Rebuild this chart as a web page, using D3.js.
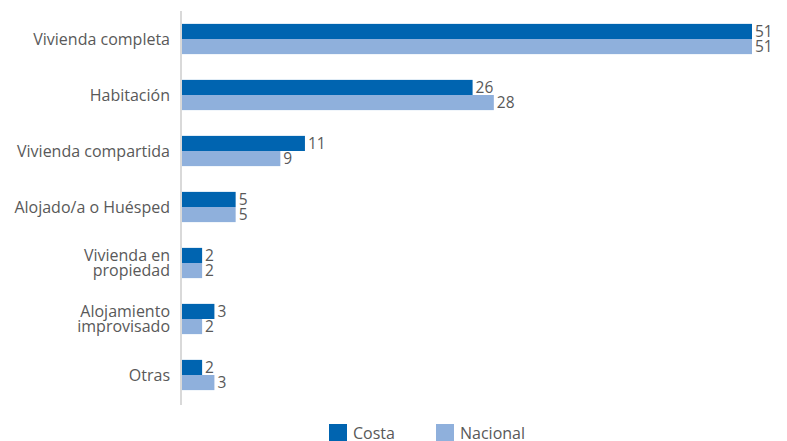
<!DOCTYPE html>
<html>
<head>
<meta charset="utf-8">
<script src="https://cdn.jsdelivr.net/npm/d3@7"></script>
<style>
  body{margin:0;background:#fff;}
  text{font-family:"Open Sans",sans-serif;}
</style>
</head>
<body>
<svg id="chart" width="787" height="441"></svg>
<script>
// categories (multi-line labels split by '|')
var categories=["Vivienda completa","Habitación","Vivienda compartida","Alojado/a o Huésped","Vivienda en|propiedad","Alojamiento|improvisado","Otras"];
var series=["Costa","Nacional"];
var costa=[51,26,11,4.8,1.8,2.9,1.8];
var nacional=[51,27.9,8.8,4.8,1.8,1.8,2.9];
var colors=["#0064b0","#8fb0dc"];

var svg=d3.select("#chart");

var x=d3.scaleLinear().domain([0,51]).range([182,752]);
var y=d3.scaleBand().domain(categories).range([11,403]).paddingInner(0.46).paddingOuter(0.23);
var ySub=d3.scaleBand().domain(series).range([0,y.bandwidth()]);

var rows=categories.map(function(c,i){return {cat:c,vals:[costa[i],nacional[i]]};});

var g=svg.selectAll("g.row").data(rows).enter().append("g")
  .attr("class","row")
  .attr("transform",function(d){return "translate(0,"+y(d.cat)+")";});

g.selectAll("rect").data(function(d){return d.vals.map(function(v,j){return {s:series[j],v:v,j:j};});})
  .enter().append("rect")
  .attr("x",x(0))
  .attr("y",function(d){return ySub(d.s);})
  .attr("width",function(d){return x(d.v)-x(0);})
  .attr("height",ySub.bandwidth())
  .attr("fill",function(d){return colors[d.j];});

g.selectAll("text.val").data(function(d){return d.vals.map(function(v,j){return {s:series[j],v:v};});})
  .enter().append("text")
  .attr("class","val")
  .attr("x",function(d){return x(d.v)+3;})
  .attr("y",function(d){return ySub(d.s)+ySub.bandwidth()/2;})
  .attr("dy","0.36em")
  .attr("font-size","15.5px")
  .attr("fill","#595959")
  .text(function(d){return Math.round(d.v);});

// category labels
svg.selectAll("text.cat").data(categories).enter().append("text")
  .attr("class","cat")
  .attr("text-anchor","end")
  .attr("font-size","16px")
  .attr("fill","#595959")
  .each(function(d){
    var lines=d.split("|");
    var cy=y(d)+y.bandwidth()/2;
    var t=d3.select(this);
    lines.forEach(function(l,k){
      t.append("tspan")
        .attr("x",170)
        .attr("y",cy+(k-(lines.length-1)/2)*15)
        .attr("dy","0.35em")
        .text(l);
    });
  });

// axis line
svg.append("line")
  .attr("x1",181).attr("x2",181)
  .attr("y1",11).attr("y2",405)
  .attr("stroke","#d9d9d9").attr("stroke-width",2);

// legend
var legX=[329,436];
var leg=svg.selectAll("g.leg").data(series).enter().append("g")
  .attr("class","leg")
  .attr("transform",function(d,i){return "translate("+legX[i]+",424)";});
leg.append("rect").attr("width",18).attr("height",17)
  .attr("fill",function(d,i){return colors[i];});
leg.append("text").attr("x",24).attr("y",9).attr("dy","0.35em")
  .attr("font-size","16px").attr("fill","#595959")
  .text(function(d){return d;});
</script>
</body>
</html>
